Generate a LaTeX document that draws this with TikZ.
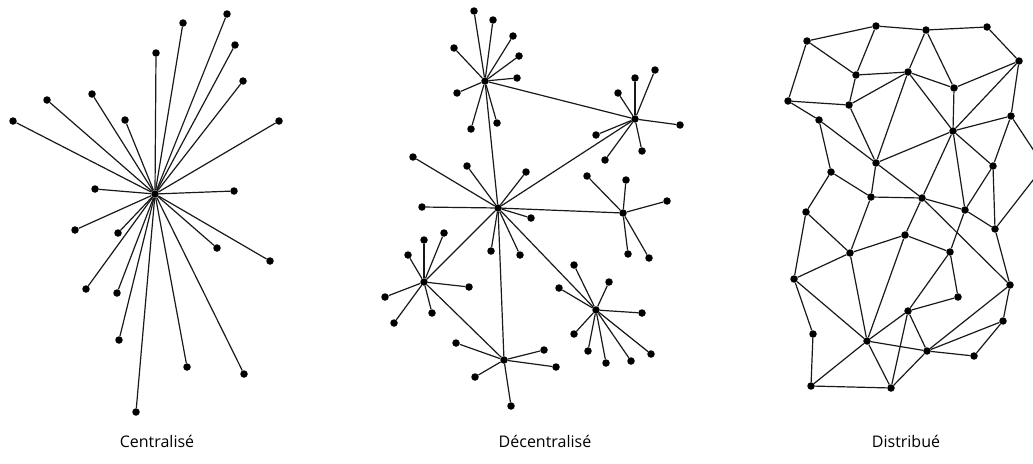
\documentclass[tikz,border=0pt]{standalone}
\usepackage{fontspec}
\setmainfont{Open Sans}

\tikzset{
  dot/.style={circle, fill=black, inner sep=0pt, minimum size=7.5pt},
  link/.style={line width=1.2pt, black!90},
  caption/.style={font={\fontsize{16}{16}\selectfont}}
}

\begin{document}
\begin{tikzpicture}[x=1pt, y=-1pt]

\useasboundingbox (0,0) rectangle (1033,463);
\clip (0,0) rectangle (1033,463);

% centralise
\node [dot] (hub) at (155,194) {};
\foreach \n/\x/\y in {1/156/53, 2/47/100, 3/92/94, 4/13/121, 5/125/120, 6/95/189,
  7/227/14, 8/183/23, 9/235/45, 10/243/81, 11/279/121, 12/234/191,
  13/75/230, 14/118/233, 15/86/289, 16/117/293, 17/119/340, 18/136/412,
  19/217/248, 20/270/261, 21/187/367, 22/244/374}
{
  \node [dot] (c\n) at (\x,\y) {};
  \draw [link] (hub) -- (c\n);
}

% decentralise
\node [dot] (hubM) at (498,208) {};
\node [dot] (hubA) at (485,81) {};
\node [dot] (hubB) at (635,119) {};
\node [dot] (hubC) at (623,213) {};
\node [dot] (hubD) at (424,282) {};
\node [dot] (hubE) at (504,360) {};
\node [dot] (hubF) at (596,310) {};

\foreach \h in {A,B,C,D,E,F}
  \draw [link] (hubM) -- (hub\h);
\draw [link] (hubA) -- (hubB);
\draw [link] (hubD) -- (hubE);

\foreach \h/\n/\x/\y in {M/1/413/157, M/2/467/166, M/3/526/172, M/4/422/207,
  M/5/531/218, M/6/491/251, M/7/520/255,
  A/1/474/11, A/2/493/20, A/3/513/36, A/4/454/48, A/5/519/56, A/6/517/78,
  A/7/457/93, A/8/471/129, A/9/497/123,
  B/1/655/70, B/2/635/78, B/3/618/93, B/4/680/125, B/5/596/135, B/6/642/151,
  B/7/605/160,
  C/1/587/176, C/2/626/180, C/3/667/201, C/4/628/254, C/5/649/258,
  D/1/444/233, D/2/424/240, D/3/408/255, D/4/469/287, D/5/385/297,
  D/6/432/313, D/7/394/323,
  E/1/456/343, E/2/475/377, E/3/511/406, E/4/544/350, E/5/556/367,
  F/1/574/265, F/2/559/288, F/3/609/282, F/4/642/313, F/5/574/334,
  F/6/588/351, F/7/606/363, F/8/631/361, F/9/651/354}
{
  \node [dot] (d\h\n) at (\x,\y) {};
  \draw [link] (hub\h) -- (d\h\n);
}

% distribue
\foreach \n/\x/\y in {a/807/41, b/876/26, c/926/30, d/987/27, e/856/75, f/908/72,
  g/1019/61, h/788/101, i/849/105, j/954/88, k/819/120, l/1011/116, m/953/131,
  n/876/163, o/831/172, p/993/166, q/871/197, r/922/198, s/965/210, t/806/212,
  u/995/229, v/905/235, w/850/253, x/950/252, y/794/279, z/1010/285,
  A/958/297, B/908/311, C/813/334, D/867/341, E/1003/321, F/811/386,
  G/891/388, H/927/351, I/974/356, X/1044/166}
  \node [dot] (\n) at (\x,\y) {};

\foreach \u/\v in {a/b, a/e, a/h, b/e, b/c, c/d, c/f, c/j, d/g, e/f, e/i, f/i,
  f/j, f/m, f/n, g/j, g/m, g/l, h/i, h/k, i/n, j/m, k/n, k/o, l/m, l/p, l/X,
  m/n, m/p, m/r, m/s, n/q, n/r, o/q, o/t, p/s, p/u, q/r, q/w, r/s, r/v, r/z,
  s/u, s/x, t/w, t/y, u/z, u/X, v/w, v/x, v/D, w/y, w/D, x/A, x/B, y/C, y/D,
  A/B, B/D, B/G, B/H, C/F, D/F, D/G, D/H, E/z, E/H, E/I, F/G, G/H, H/I, z/H}
  \draw [link] (\u) -- (\v);

\node [caption] (lcentral) at (157,441) {Centralisé};
\node [caption] (ldecentral) at (545,441) {Décentralisé};
\node [caption] (ldistrib) at (906,441) {Distribué};

\end{tikzpicture}
\end{document}
